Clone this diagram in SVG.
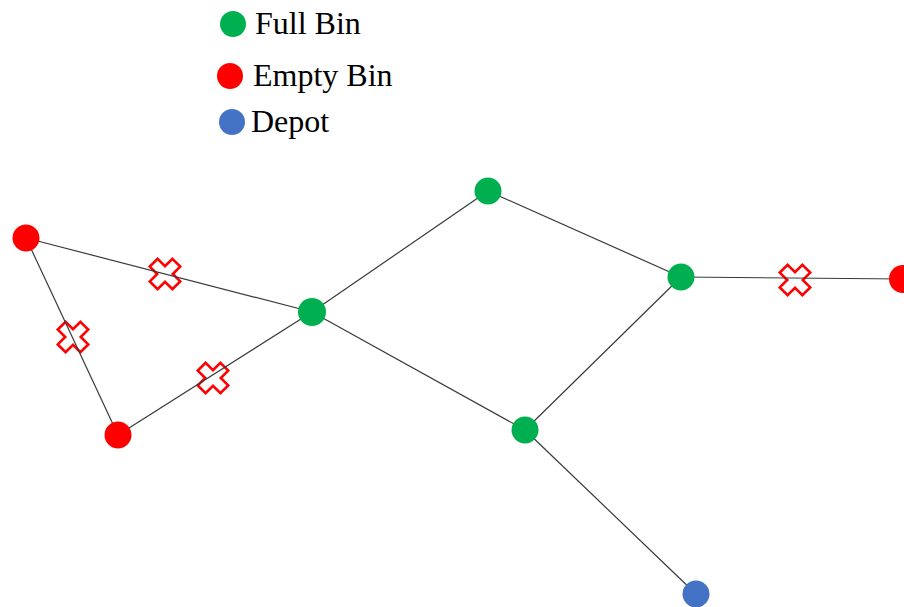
<svg xmlns="http://www.w3.org/2000/svg" width="904" height="607" viewBox="0 0 904 607">
  <defs>
    <style>
      .full { fill: #00B050; }
      .empty { fill: #FF0000; }
      .depot { fill: #4472C4; }
      .edge { stroke: #3a3a3a; stroke-width: 1.2; fill: none; }
      .cut { fill: #ffffff; stroke: #FF0000; stroke-width: 2.6; stroke-linejoin: miter; }
      .label { font-family: "Liberation Serif", "Times New Roman", serif; font-size: 32px; fill: #000; }
    </style>
    <!-- X-shaped "removed link" mark, centred on 0,0 -->
    <polygon id="cross" transform="rotate(45)"
      points="-5.5,-16 5.5,-16 5.5,-5.5 16,-5.5 16,5.5 5.5,5.5 5.5,16 -5.5,16 -5.5,5.5 -16,5.5 -16,-5.5 -5.5,-5.5"/>
  </defs>

  <rect width="904" height="607" fill="#ffffff"/>

  <!-- legend -->
  <g id="legend">
    <circle class="full" cx="233" cy="24" r="13"/>
    <text class="label" x="255" y="34">Full Bin</text>
    <circle class="empty" cx="230" cy="76" r="13"/>
    <text class="label" x="253" y="86">Empty Bin</text>
    <circle class="depot" cx="232" cy="122" r="13"/>
    <text class="label" x="251" y="132">Depot</text>
  </g>

  <!-- removed-link marks -->
  <g id="cuts">
    <use href="#cross" class="cut" x="165" y="274"/>
    <use href="#cross" class="cut" x="73" y="337"/>
    <use href="#cross" class="cut" x="213" y="378"/>
    <use href="#cross" class="cut" x="795" y="280"/>
  </g>

  <!-- connectors -->
  <g id="edges">
    <line class="edge" x1="26" y1="238" x2="312" y2="312"/>
    <line class="edge" x1="26" y1="238" x2="118" y2="435"/>
    <line class="edge" x1="118" y1="435" x2="312" y2="312"/>
    <line class="edge" x1="312" y1="312" x2="488" y2="191"/>
    <line class="edge" x1="312" y1="312" x2="525" y2="430"/>
    <line class="edge" x1="488" y1="191" x2="681" y2="277"/>
    <line class="edge" x1="681" y1="277" x2="525" y2="430"/>
    <line class="edge" x1="681" y1="277" x2="903" y2="279"/>
    <line class="edge" x1="525" y1="430" x2="696" y2="594"/>
  </g>

  <!-- nodes -->
  <g id="bin-a"><circle class="empty" cx="26" cy="238" r="13.5"/></g>
  <g id="bin-b"><circle class="empty" cx="118" cy="435" r="13.5"/></g>
  <g id="bin-c"><circle class="full" cx="312" cy="312" r="14"/></g>
  <g id="bin-d"><circle class="full" cx="488" cy="191" r="13.5"/></g>
  <g id="bin-e"><circle class="full" cx="681" cy="277" r="13.5"/></g>
  <g id="bin-f"><circle class="full" cx="525" cy="430" r="13.5"/></g>
  <g id="bin-g"><circle class="empty" cx="903" cy="279" r="14"/></g>
  <g id="depot"><circle class="depot" cx="696" cy="594" r="13.5"/></g>
</svg>
